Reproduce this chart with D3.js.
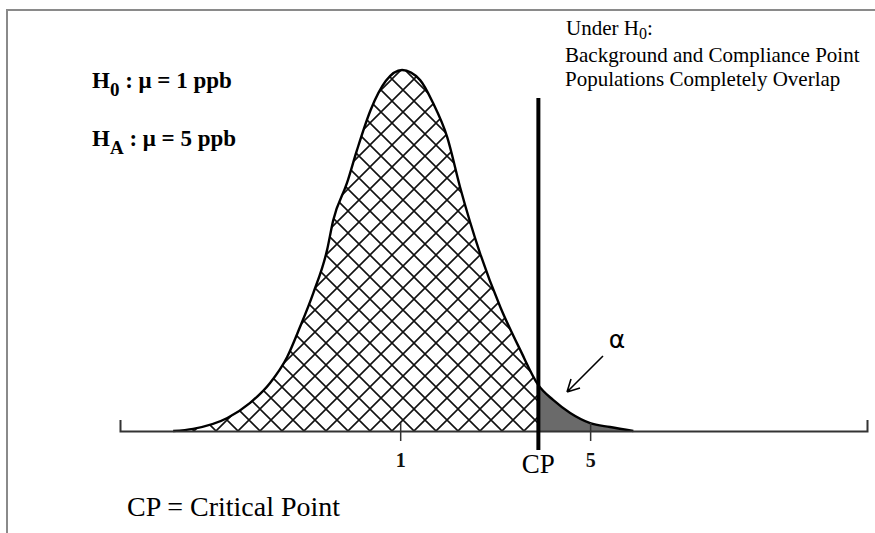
<!DOCTYPE html>
<html><head><meta charset="utf-8">
<script src="https://cdn.jsdelivr.net/npm/d3@7"></script>
<style>html,body{margin:0;padding:0;background:#fff;}svg{display:block;}</style>
</head><body>
<svg id="chart" width="875" height="533"></svg>
<script>
// ---- data ----
const curveX = [-3.78,-3.36,-2.64,-2.16,-1.74,-1.38,-1.11,-0.83,-0.54,-0.41,-0.12,0.09,0.38,0.70,1.04,1.42,1.69,1.99,2.26,2.68,3.11,3.53,3.91,4.22,4.58,5.00,5.42,5.91];
const curveY = [0,0.006,0.036,0.078,0.133,0.205,0.288,0.382,0.501,0.584,0.687,0.778,0.89,0.97,1.0,0.972,0.909,0.814,0.676,0.493,0.343,0.224,0.127,0.086,0.050,0.022,0.011,0];
const tickValues = [1, 5];
const tickLabels = ["1", "5"];
const criticalPoint = 3.91;
const axisDomain = [-4.9, 10.83];

const svg = d3.select("#chart");
const x = d3.scaleLinear().domain(axisDomain).range([120, 867]);
const y = d3.scaleLinear().domain([0, 1]).range([431, 70]);
const pts = curveX.map((v, i) => [v, curveY[i]]);
const serif = "'Liberation Serif', 'Times New Roman', serif";

// frame
svg.append("path").attr("d", "M7,533 V10 H875").attr("fill", "none")
  .attr("stroke", "#8a8a8a").attr("stroke-width", 2);

const defs = svg.append("defs");
const pat = defs.append("pattern").attr("id", "hatch").attr("patternUnits", "userSpaceOnUse")
  .attr("width", 22).attr("height", 22).attr("x", 18).attr("y", 13);
pat.append("path").attr("d", "M0,0 L22,22 M0,22 L22,0 M-2,2 L2,-2 M20,24 L24,20 M-2,20 L2,24 M20,-2 L24,2")
  .attr("stroke", "#111").attr("stroke-width", 1.6);
defs.append("clipPath").attr("id", "leftClip").append("rect")
  .attr("x", 0).attr("y", 0).attr("width", x(criticalPoint)).attr("height", 533);
defs.append("clipPath").attr("id", "rightClip").append("rect")
  .attr("x", x(criticalPoint)).attr("y", 0).attr("width", 875).attr("height", 533);

const area = d3.area().x(d => x(d[0])).y0(y(0)).y1(d => y(d[1])).curve(d3.curveMonotoneX);
const line = d3.line().x(d => x(d[0])).y(d => y(d[1])).curve(d3.curveMonotoneX);

svg.append("path").datum(pts).attr("d", area).attr("fill", "url(#hatch)").attr("clip-path", "url(#leftClip)");
svg.append("path").datum(pts).attr("d", area).attr("fill", "#6a6a6a").attr("clip-path", "url(#rightClip)");
svg.append("path").datum(pts).attr("d", line).attr("fill", "none").attr("stroke", "#000").attr("stroke-width", 2.4);

// axis
const axis = d3.axisBottom(x).tickValues(tickValues).tickFormat((d, i) => tickLabels[i])
  .tickSizeInner(10).tickSizeOuter(-11).tickPadding(14);
const g = svg.append("g").attr("transform", `translate(0,${y(0)})`).call(axis);
g.attr("font-size", null).attr("font-family", null);
g.select(".domain").attr("stroke", "#333").attr("stroke-width", 2);
g.selectAll(".tick line").attr("y1", -8).attr("stroke", "#333").attr("stroke-width", 1.5);
g.selectAll(".tick text").style("font-family", serif).style("font-weight", "bold")
  .style("font-size", "20px").attr("fill", "#111").attr("y", 36).attr("dy", null);

// critical point line
svg.append("line").attr("x1", x(criticalPoint)).attr("x2", x(criticalPoint))
  .attr("y1", 98).attr("y2", 450).attr("stroke", "#000").attr("stroke-width", 4);

svg.append("text").attr("x", x(criticalPoint)).attr("y", 473).attr("text-anchor", "middle")
  .attr("font-family", serif).attr("font-size", 27).text("CP");

// alpha + arrow
svg.append("text").attr("x", 617).attr("y", 348).attr("text-anchor", "middle")
  .attr("font-family", "'DejaVu Sans', sans-serif").attr("font-size", 25).text("α");
svg.append("path").attr("d", "M603,356 L567,392 M567,392 L571,379 M567,392 L580,388")
  .attr("fill", "none").attr("stroke", "#000").attr("stroke-width", 1.6);

// hypotheses
function hyp(yy, sub, rest) {
  const t = svg.append("text").attr("x", 92).attr("y", yy).attr("font-family", serif)
    .attr("font-weight", "bold").attr("font-size", 23).attr("fill", "#000");
  t.append("tspan").text("H");
  t.append("tspan").attr("dy", 8).attr("font-size", 19).text(sub);
  t.append("tspan").attr("dy", -8).text(rest);
}
hyp(88, "0", " : μ = 1 ppb");
hyp(146, "A", " : μ = 5 ppb");

// under H0 note
const u = svg.append("text").attr("x", 566).attr("y", 35).attr("font-family", serif).attr("font-size", 21);
u.append("tspan").text("Under H");
u.append("tspan").attr("dy", 4).attr("font-size", 16).text("0");
u.append("tspan").attr("dy", -4).text(":");
svg.append("text").attr("x", 565).attr("y", 62).attr("font-family", serif).attr("font-size", 21)
  .text("Background and Compliance Point");
svg.append("text").attr("x", 565).attr("y", 86).attr("font-family", serif).attr("font-size", 21)
  .text("Populations Completely Overlap");

svg.append("text").attr("x", 127).attr("y", 516).attr("font-family", serif).attr("font-size", 28)
  .text("CP = Critical Point");
</script>
</body></html>
